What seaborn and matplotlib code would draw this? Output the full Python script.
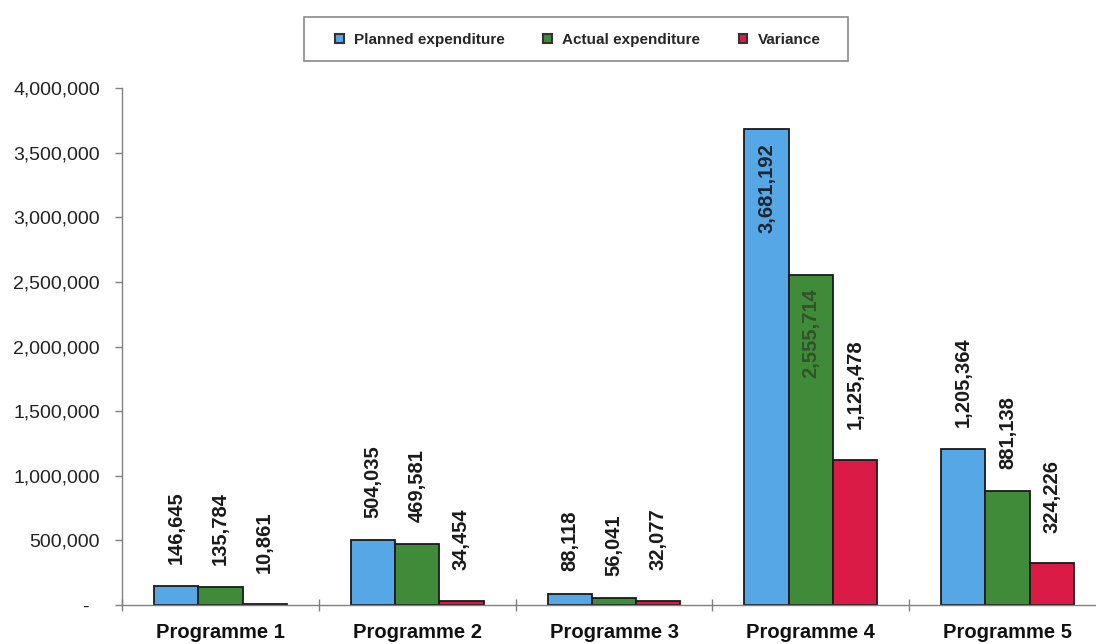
import numpy as np
import pandas as pd
import seaborn as sns
import matplotlib.pyplot as plt
from matplotlib.patches import Patch, Rectangle
from matplotlib.ticker import FuncFormatter, FixedLocator

# Expenditure per programme
programmes = ["Programme 1", "Programme 2", "Programme 3", "Programme 4", "Programme 5"]
planned = [146645, 504035, 88118, 3681192, 1205364]
actual = [135784, 469581, 56041, 2555714, 881138]
variance = [10861, 34454, 32077, 1125478, 324226]

series_names = ["Planned expenditure", "Actual expenditure", "Variance"]
series_colors = ["#55A7E6", "#3F8B3A", "#DA1B45"]
inside_text_colors = ["#1c2530", "#34502c", "#1c1c1c"]

sns.set_theme(style="white")
plt.rcParams["font.family"] = ["Liberation Sans", "DejaVu Sans"]

df = pd.DataFrame({
    "Programme": programmes * 3,
    "Series": np.repeat(series_names, len(programmes)),
    "Amount": planned + actual + variance,
})

fig = plt.figure(figsize=(10.96, 6.44), dpi=100)
fig.patch.set_facecolor("white")
ax = fig.add_axes([122 / 1096, 39 / 644, 984 / 1096, 517 / 644])

sns.barplot(
    data=df, x="Programme", y="Amount", hue="Series",
    hue_order=series_names, order=programmes, palette=series_colors,
    width=0.675, saturation=1, edgecolor="#1a1a1a", linewidth=1.3,
    errorbar=None, legend=False, ax=ax,
)

ax.set_xlim(-0.5, len(programmes) - 0.5)
ax.set_ylim(0, 4_000_000)
ax.set_xlabel("")
ax.set_ylabel("")

# Value labels, rotated; tall bars carry their label inside the top
label_gap = [16, 16, 22]
for cont, vals, in_col, gap in zip(ax.containers, [planned, actual, variance],
                                   inside_text_colors, label_gap):
    for bar, v in zip(cont, vals):
        x = bar.get_x() + bar.get_width() / 2
        if v > 2_000_000:
            ax.annotate(f"{v:,}", (x, v), xytext=(0, -10), textcoords="offset points",
                        rotation=90, ha="center", va="top", fontsize=14.5,
                        fontweight="bold", color=in_col)
        else:
            ax.annotate(f"{v:,}", (x, v), xytext=(0, gap), textcoords="offset points",
                        rotation=90, ha="center", va="bottom", fontsize=14.5,
                        fontweight="bold", color="#1a1a1a")

# Axes styling
ax.set_yticks(np.arange(0, 4_000_001, 500_000))
ax.yaxis.set_major_formatter(FuncFormatter(lambda v, _: "-  " if v == 0 else f"{v:,.0f}"))
ax.tick_params(axis="y", which="major", left=True, direction="out", length=5, width=1,
               color="#808080", pad=11, labelsize=14, labelcolor="#222222")
ax.tick_params(axis="x", which="major", bottom=True, length=0, pad=13, labelsize=14.5,
               labelcolor="#111111")
for lbl in ax.get_xticklabels():
    lbl.set_fontweight("bold")
ax.xaxis.set_minor_locator(FixedLocator(np.arange(-0.5, len(programmes), 1.0)))
ax.tick_params(axis="x", which="minor", bottom=True, direction="inout", length=8,
               width=1, color="#808080")

for side in ["top", "right"]:
    ax.spines[side].set_visible(False)
for side in ["left", "bottom"]:
    ax.spines[side].set_color("#808080")
    ax.spines[side].set_linewidth(1)

# Legend in a framed box above the plot
handles = [Patch(facecolor=c, edgecolor="#333333", linewidth=1.5) for c in series_colors]
fig.legend(handles, series_names, loc="center", bbox_to_anchor=(578 / 1096, 1 - 40 / 644),
           ncol=3, frameon=False, prop={"weight": "bold", "size": 11},
           handlelength=0.55, handleheight=0.55, handletextpad=0.7, columnspacing=2.5)
fig.add_artist(Rectangle((304 / 1096, 1 - 61 / 644), 544 / 1096, 44 / 644,
                         transform=fig.transFigure, fill=False,
                         edgecolor="#8a8a8a", linewidth=1.2))

fig.savefig("out.png", dpi=100, facecolor="white")
